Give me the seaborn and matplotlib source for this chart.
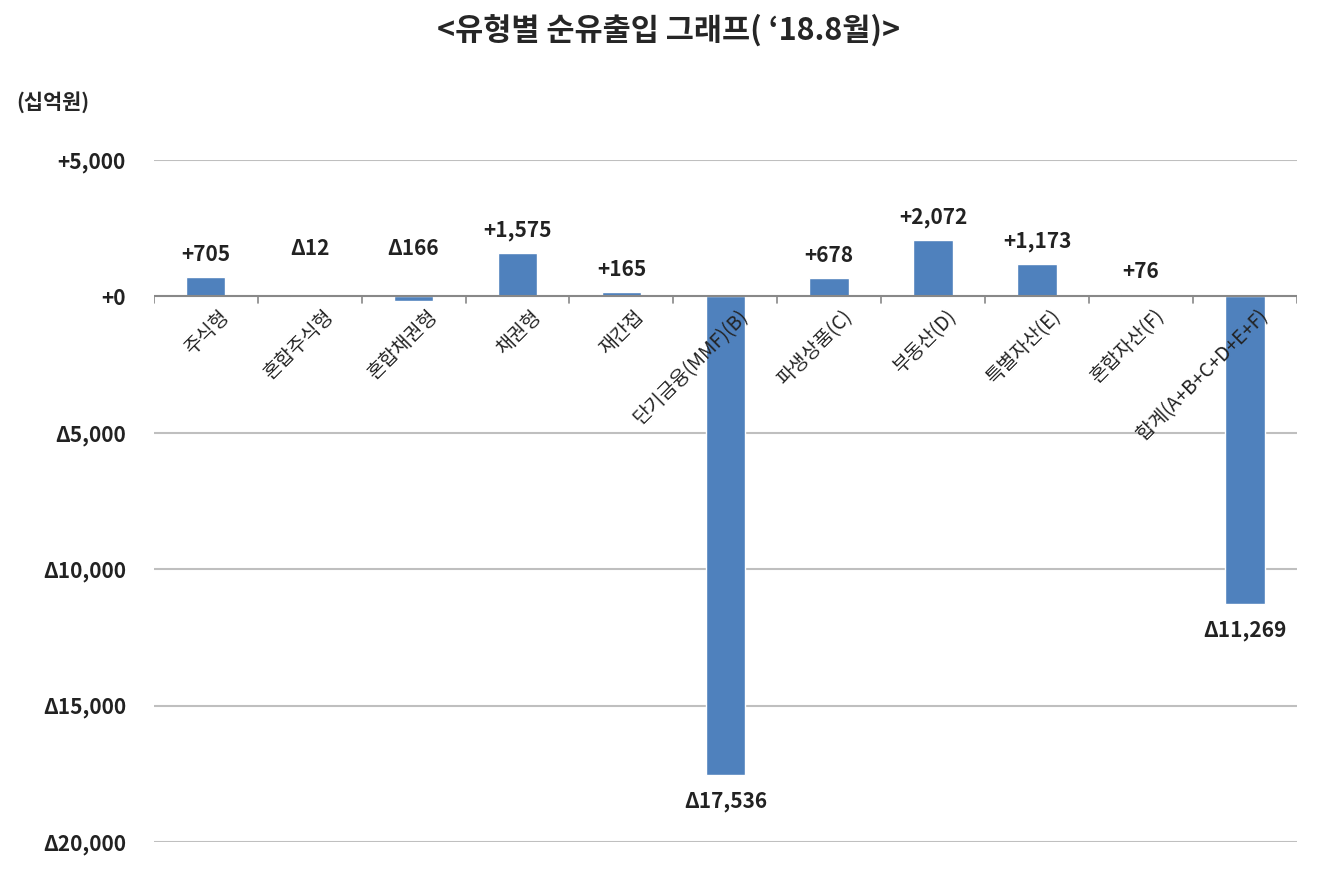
import matplotlib
matplotlib.use("Agg")
import matplotlib.pyplot as plt
import seaborn as sns
import pandas as pd

categories = ["주식형", "혼합주식형", "혼합채권형", "채권형", "재간접", "단기금융(MMF)(B)",
              "파생상품(C)", "부동산(D)", "특별자산(E)", "혼합자산(F)", "합계(A+B+C+D+E+F)"]
values = [705, -12, -166, 1575, 165, -17536, 678, 2072, 1173, 76, -11269]
yticks = [5000, 0, -5000, -10000, -15000, -20000]
ytick_labels = ["+5,000", "+0", "Δ5,000", "Δ10,000", "Δ15,000", "Δ20,000"]

sns.set_theme(style="white")
plt.rcParams['font.family'] = ['Noto Sans CJK KR', 'DejaVu Sans']

fig = plt.figure(figsize=(13.37, 8.69), dpi=100)
ax = fig.add_axes([0.115, 0.031, 0.855, 0.785])
df = pd.DataFrame({"cat": categories, "val": values})
sns.barplot(data=df, x="cat", y="val", color="#4F81BD", saturation=1, width=0.38, ax=ax)
ax.set_ylim(-20000, 5000)
ax.set_yticks(yticks)
ax.set_yticklabels(ytick_labels, fontsize=15, fontweight="bold", color="#222222")
ax.tick_params(axis="y", length=0, pad=20)
ax.set_xticks([])
ax.set_xlabel(""); ax.set_ylabel("")
for s in ax.spines.values():
    s.set_visible(False)
ax.set_axisbelow(True)
for t in yticks:
    if t != 0:
        ax.axhline(t, color="#BFBFBF", lw=1.5, zorder=0)
ax.axhline(0, color="#888888", lw=1.5, zorder=3)
for i in range(len(categories) + 1):
    ax.plot([i - 0.5, i - 0.5], [0, -250], color="#888888", lw=1.2, zorder=3)
ax.set_xlim(-0.5, len(categories) - 0.5)

def fmt(v):
    return ("+" if v >= 0 else "Δ") + f"{abs(v):,}"

for i, v in enumerate(values):
    if v >= 0:
        y = max(v, 0) + 450
        va = "bottom"
    elif v < -1000:
        y = v - 600
        va = "top"
    else:
        y = 1350
        va = "bottom"
    ax.text(i, y, fmt(v), ha="center", va=va, fontsize=15, fontweight="bold", color="#222222")
    ax.text(i + 0.12, -350, categories[i], ha="right", va="top", rotation=45,
            rotation_mode="anchor", fontsize=14, color="#222222")

fig.text(0.5, 0.965, "<유형별 순유출입 그래프( ‘18.8월)>", ha="center", va="center",
         fontsize=22, fontweight="bold")
fig.text(0.012, 0.882, "(십억원)", ha="left", va="center", fontsize=15, fontweight="bold")
fig.savefig("out.png", dpi=100)
